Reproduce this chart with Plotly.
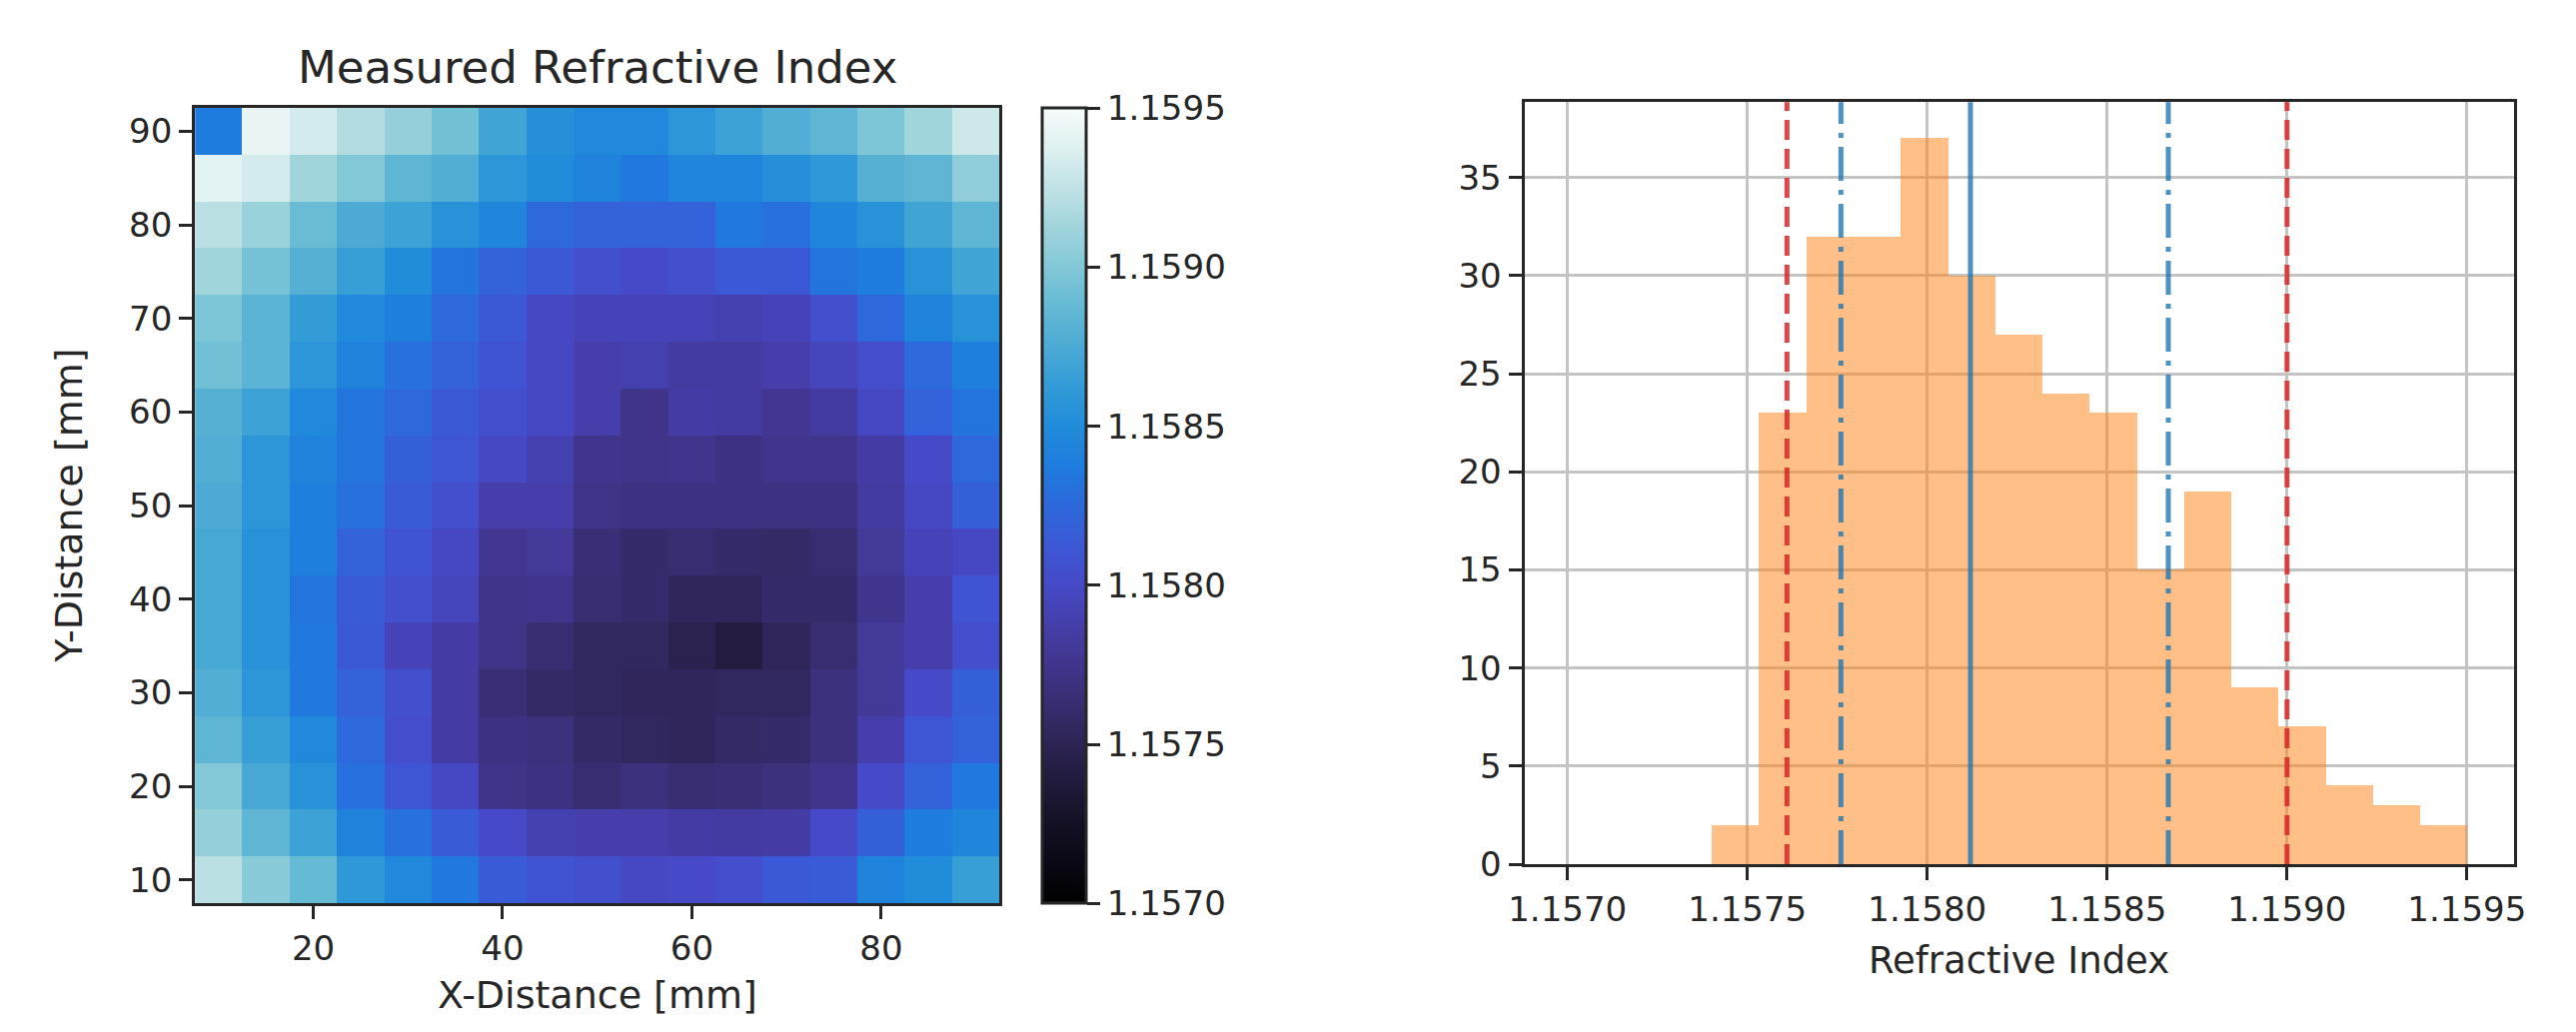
import plotly.graph_objects as go

# ---------------- data ----------------
x_mm = [10, 15, 20, 25, 30, 35, 40, 45, 50, 55, 60, 65, 70, 75, 80, 85, 90]
y_mm = [90, 85, 80, 75, 70, 65, 60, 55, 50, 45, 40, 35, 30, 25, 20, 15, 10]

# measured refractive index, rows from y=90 (top) to y=10 (bottom)
n_map = [
    [1.15838, 1.15943, 1.15933, 1.15920, 1.15908, 1.15893, 1.15870, 1.15853, 1.15848, 1.15848, 1.15858, 1.15868, 1.15878, 1.15885, 1.15898, 1.15913, 1.15930],
    [1.15940, 1.15933, 1.15913, 1.15900, 1.15885, 1.15878, 1.15858, 1.15850, 1.15843, 1.15835, 1.15845, 1.15845, 1.15853, 1.15860, 1.15880, 1.15885, 1.15905],
    [1.15923, 1.15910, 1.15890, 1.15875, 1.15868, 1.15855, 1.15845, 1.15825, 1.15820, 1.15820, 1.15820, 1.15835, 1.15830, 1.15845, 1.15855, 1.15870, 1.15885],
    [1.15913, 1.15895, 1.15880, 1.15865, 1.15850, 1.15833, 1.15820, 1.15813, 1.15805, 1.15800, 1.15805, 1.15813, 1.15813, 1.15833, 1.15838, 1.15855, 1.15870],
    [1.15898, 1.15883, 1.15863, 1.15848, 1.15840, 1.15825, 1.15813, 1.15798, 1.15793, 1.15793, 1.15793, 1.15790, 1.15793, 1.15805, 1.15825, 1.15843, 1.15855],
    [1.15893, 1.15883, 1.15858, 1.15843, 1.15830, 1.15820, 1.15808, 1.15798, 1.15788, 1.15790, 1.15783, 1.15783, 1.15788, 1.15795, 1.15803, 1.15825, 1.15840],
    [1.15880, 1.15868, 1.15848, 1.15833, 1.15825, 1.15813, 1.15805, 1.15798, 1.15788, 1.15773, 1.15785, 1.15783, 1.15778, 1.15783, 1.15798, 1.15820, 1.15833],
    [1.15878, 1.15858, 1.15843, 1.15833, 1.15818, 1.15810, 1.15798, 1.15790, 1.15775, 1.15773, 1.15775, 1.15770, 1.15775, 1.15775, 1.15785, 1.15800, 1.15825],
    [1.15875, 1.15858, 1.15840, 1.15830, 1.15815, 1.15805, 1.15788, 1.15788, 1.15773, 1.15770, 1.15770, 1.15770, 1.15770, 1.15770, 1.15783, 1.15798, 1.15818],
    [1.15873, 1.15855, 1.15840, 1.15820, 1.15808, 1.15798, 1.15778, 1.15780, 1.15765, 1.15760, 1.15763, 1.15760, 1.15758, 1.15763, 1.15780, 1.15793, 1.15798],
    [1.15873, 1.15855, 1.15833, 1.15815, 1.15805, 1.15795, 1.15773, 1.15775, 1.15763, 1.15760, 1.15753, 1.15753, 1.15760, 1.15760, 1.15775, 1.15788, 1.15808],
    [1.15873, 1.15855, 1.15835, 1.15813, 1.15793, 1.15785, 1.15773, 1.15763, 1.15755, 1.15755, 1.15748, 1.15740, 1.15753, 1.15763, 1.15780, 1.15788, 1.15803],
    [1.15878, 1.15858, 1.15835, 1.15820, 1.15805, 1.15785, 1.15765, 1.15758, 1.15755, 1.15753, 1.15753, 1.15755, 1.15755, 1.15768, 1.15780, 1.15800, 1.15818],
    [1.15885, 1.15865, 1.15848, 1.15825, 1.15803, 1.15785, 1.15770, 1.15768, 1.15758, 1.15755, 1.15753, 1.15758, 1.15760, 1.15768, 1.15788, 1.15810, 1.15820],
    [1.15900, 1.15873, 1.15855, 1.15830, 1.15810, 1.15798, 1.15773, 1.15770, 1.15763, 1.15768, 1.15763, 1.15765, 1.15768, 1.15775, 1.15800, 1.15820, 1.15835],
    [1.15908, 1.15885, 1.15868, 1.15843, 1.15830, 1.15815, 1.15800, 1.15790, 1.15788, 1.15788, 1.15785, 1.15783, 1.15785, 1.15800, 1.15818, 1.15838, 1.15845],
    [1.15923, 1.15903, 1.15888, 1.15860, 1.15848, 1.15835, 1.15815, 1.15808, 1.15805, 1.15798, 1.15800, 1.15803, 1.15813, 1.15815, 1.15843, 1.15850, 1.15865],
]

# histogram of the map
bin_edges = [1.157400, 1.15753125, 1.1576625, 1.15779375, 1.157925, 1.15805625,
             1.1581875, 1.15831875, 1.15845, 1.15858125, 1.1587125, 1.15884375,
             1.158975, 1.15910625, 1.1592375, 1.15936875, 1.1595]
counts = [2, 23, 32, 32, 37, 30, 27, 24, 23, 15, 19, 9, 7, 4, 3, 2]

mean_line = [1.15812]
inner_lines = [1.15776, 1.15867]
outer_lines = [1.15761, 1.15900]

cbar_ticks = [1.1570, 1.1575, 1.1580, 1.1585, 1.1590, 1.1595]
hist_xticks = [1.1570, 1.1575, 1.1580, 1.1585, 1.1590, 1.1595]
hist_yticks = [0, 5, 10, 15, 20, 25, 30, 35]
map_xticks = [20, 40, 60, 80]
map_yticks = [10, 20, 30, 40, 50, 60, 70, 80, 90]

# ---------------- style ----------------
W, H = 2578, 1033
FONT = "DejaVu Sans"
TXT = "#262626"
TICKF = dict(family=FONT, size=34, color=TXT)
LINEC = "#262626"

colorscale = [
    [0.00, "rgb(0,0,0)"], [0.05, "rgb(10,8,20)"], [0.10, "rgb(20,16,36)"],
    [0.15, "rgb(32,26,58)"], [0.20, "rgb(45,36,84)"], [0.25, "rgb(56,45,112)"],
    [0.30, "rgb(64,53,140)"], [0.35, "rgb(69,62,170)"], [0.40, "rgb(70,74,200)"],
    [0.45, "rgb(60,88,215)"], [0.50, "rgb(45,104,220)"], [0.55, "rgb(30,124,222)"],
    [0.60, "rgb(33,140,218)"], [0.65, "rgb(50,155,215)"], [0.70, "rgb(76,170,212)"],
    [0.75, "rgb(100,185,212)"], [0.80, "rgb(130,200,215)"], [0.85, "rgb(160,212,220)"],
    [0.90, "rgb(192,226,229)"], [0.95, "rgb(222,240,240)"], [1.00, "rgb(247,251,251)"],
]

# plot-area geometry (pixels)
hm_l, hm_r, hm_t, hm_b = 173, 987, 102, 914
hs_l, hs_r, hs_t, hs_b = 1518, 2519, 96, 874
cb_l, cb_w = 1030, 44

def px_x(p):
    return p / W

def px_y(p):
    return 1 - p / H

fig = go.Figure()

fig.add_trace(go.Heatmap(
    x=x_mm, y=y_mm, z=n_map, zmin=1.1570, zmax=1.1595,
    colorscale=colorscale, xaxis="x", yaxis="y",
    colorbar=dict(
        x=px_x(cb_l), xanchor="left", xpad=0,
        y=px_y(hm_b), yanchor="bottom", ypad=0,
        len=(hm_b - hm_t) / H, lenmode="fraction",
        thickness=cb_w, thicknessmode="pixels",
        outlinewidth=3, outlinecolor=LINEC,
        tickvals=cbar_ticks, ticktext=[f"{v:.4f}" for v in cbar_ticks],
        ticks="outside", ticklen=13, tickwidth=3, tickcolor=LINEC,
        tickfont=TICKF,
    ),
))

centers = [(a + b) / 2 for a, b in zip(bin_edges[:-1], bin_edges[1:])]
widths = [b - a for a, b in zip(bin_edges[:-1], bin_edges[1:])]
fig.add_trace(go.Bar(
    x=centers, y=counts, width=widths, xaxis="x2", yaxis="y2",
    marker=dict(color="rgba(255,127,14,0.5)", line=dict(width=0)),
    showlegend=False,
))

axis_common = dict(
    showline=True, mirror=True, linewidth=3, linecolor=LINEC,
    ticks="outside", ticklen=13, tickwidth=3, tickcolor=LINEC,
    tickfont=TICKF, zeroline=False,
)

fig.update_layout(
    width=W, height=H,
    margin=dict(l=0, r=0, t=0, b=0),
    paper_bgcolor="white", plot_bgcolor="white",
    showlegend=False,
    bargap=0,
    xaxis=dict(domain=[px_x(hm_l), px_x(hm_r)], range=[7.5, 92.5],
               tickvals=map_xticks, showgrid=False, anchor="y", **axis_common),
    yaxis=dict(domain=[px_y(hm_b), px_y(hm_t)], range=[7.5, 92.5],
               tickvals=map_yticks, showgrid=False, anchor="x", **axis_common),
    xaxis2=dict(domain=[px_x(hs_l), px_x(hs_r)], range=[1.15688, 1.15963],
                tickvals=hist_xticks, ticktext=[f"{v:.4f}" for v in hist_xticks],
                showgrid=True, gridcolor="#c4c4c4", gridwidth=3, anchor="y2",
                **axis_common),
    yaxis2=dict(domain=[px_y(hs_b), px_y(hs_t)], range=[0, 38.85],
                tickvals=hist_yticks, showgrid=True, gridcolor="#c4c4c4",
                gridwidth=3, anchor="x2", **axis_common),
)

shapes = []
for v in outer_lines:
    shapes.append(dict(type="line", xref="x2", yref="y2 domain", x0=v, x1=v, y0=0, y1=1,
                       line=dict(color="rgba(214,39,40,0.85)", width=5, dash="20px,9px")))
for v in inner_lines:
    shapes.append(dict(type="line", xref="x2", yref="y2 domain", x0=v, x1=v, y0=0, y1=1,
                       line=dict(color="rgba(31,119,180,0.8)", width=5, dash="34px,9px,5px,9px")))
for v in mean_line:
    shapes.append(dict(type="line", xref="x2", yref="y2 domain", x0=v, x1=v, y0=0, y1=1,
                       line=dict(color="rgba(31,119,180,0.8)", width=5)))
fig.update_layout(shapes=shapes)

ann_font = dict(family=FONT, size=38, color=TXT)
fig.update_layout(annotations=[
    dict(text="Measured Refractive Index", x=px_x((hm_l + hm_r) / 2), y=px_y(61),
         xref="paper", yref="paper", showarrow=False, xanchor="center", yanchor="middle",
         font=dict(family=FONT, size=45, color=TXT)),
    dict(text="X-Distance [mm]", x=px_x((hm_l + hm_r) / 2), y=px_y(1008),
         xref="paper", yref="paper", showarrow=False, xanchor="center", yanchor="middle",
         font=ann_font),
    dict(text="Y-Distance [mm]", x=px_x(46), y=px_y((hm_t + hm_b) / 2), textangle=-90,
         xref="paper", yref="paper", showarrow=False, xanchor="center", yanchor="middle",
         font=ann_font),
    dict(text="Refractive Index", x=px_x((hs_l + hs_r) / 2), y=px_y(972),
         xref="paper", yref="paper", showarrow=False, xanchor="center", yanchor="middle",
         font=dict(family=FONT, size=37, color=TXT)),
])

fig.write_html("out.html")
